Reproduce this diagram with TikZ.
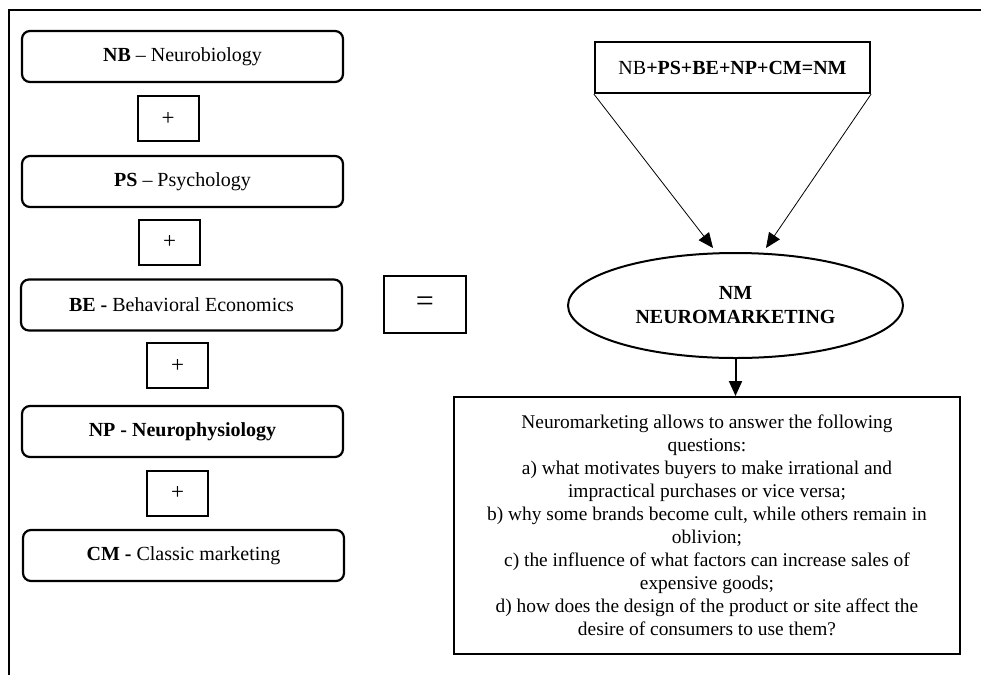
\documentclass[tikz,border=0pt]{standalone}
\usepackage{fontspec}
\setmainfont{Liberation Serif}
\usepackage{tikz}
\usetikzlibrary{shapes.geometric}
\usetikzlibrary{arrows.meta}

\begin{document}
\begin{tikzpicture}[x=1pt,y=-1pt,
            bloc/.style={draw,line width=2.2pt,rounded corners=8pt,minimum width=321pt,minimum height=51pt,font=\fontsize{20}{23}\selectfont},
            signe/.style={draw,line width=2pt,minimum width=61pt,minimum height=45pt,font=\fontsize{23}{26}\selectfont},
            fleche/.style={-{Triangle[length=15pt,width=13pt]}}]
            \useasboundingbox (0,0) rectangle (981,675);

            % Cadre
            \draw[line width=2pt] (981,10) -- (9,10) -- (9,675);

            % Colonne de gauche
            \node[bloc] (NB) at (182.5,56.5) {\textbf{NB} -- Neurobiology};
            \node[signe] (P1) at (168,118.5) {+};
            \node[bloc] (PS) at (182.5,181.5) {\textbf{PS} -- Psychology};
            \node[signe] (P2) at (169.5,242) {+};
            \node[bloc] (BE) at (181.5,305) {\textbf{BE -} Behavioral Economics};
            \node[signe] (P3) at (177.5,365.5) {+};
            \node[bloc] (NP) at (182.5,431.5) {\textbf{NP - Neurophysiology}};
            \node[signe] (P4) at (177.5,493) {+};
            \node[bloc] (CM) at (183.5,555.5) {\textbf{CM -} Classic marketing};

            % Signe egal
            \node[signe,minimum width=82pt,minimum height=57pt,font=\fontsize{32}{34}\selectfont] (EG) at (425,304.5) {=};

            % Partie de droite
            \node[draw,line width=2.2pt,minimum width=275pt,minimum height=51pt,font=\fontsize{20}{23}\selectfont] (F) at (732.5,67.5) {NB\textbf{+PS+BE+NP+CM=NM}};
            \node[ellipse,draw,line width=2pt,minimum width=335pt,minimum height=105pt,align=center,font=\bfseries\fontsize{20}{24}\selectfont] (NM) at (735.5,305.5) {NM\\NEUROMARKETING};
            \node[draw,line width=2pt,minimum width=506pt,minimum height=257pt,align=center,font=\fontsize{19.4}{23}\selectfont] (Q) at (707,525.5) {Neuromarketing allows to answer the following\\questions:\\a) what motivates buyers to make irrational and\\impractical purchases or vice versa;\\b) why some brands become cult, while others remain in\\oblivion;\\c) the influence of what factors can increase sales of\\expensive goods;\\d) how does the design of the product or site affect the\\desire of consumers to use them?};

            % Fleches
            \coordinate (pg) at (713,248);
            \coordinate (pd) at (766,248);
            \draw[fleche,line width=0.8pt] (F.south west) -- (pg);
            \draw[fleche,line width=0.8pt] (F.south east) -- (pd);
            \draw[fleche,line width=2pt] (NM.south) -- (NM.south |- Q.north);
        \end{tikzpicture}
\end{document}
